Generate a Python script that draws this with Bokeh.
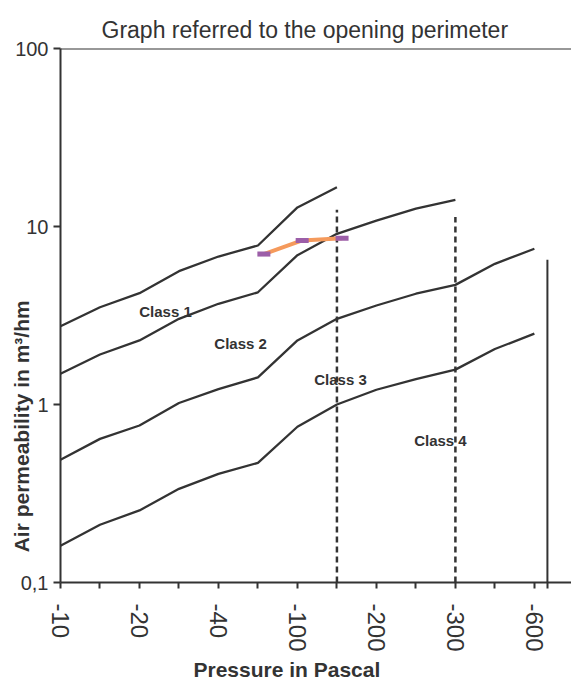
import numpy as np
from bokeh.plotting import figure
from bokeh.models import Range1d, FixedTicker, CustomJSTickFormatter, Span, Label, Title
from bokeh.embed import file_html
from bokeh.resources import INLINE

# ---------------- data ----------------
pressure_labels = ["-10", "-15", "-20", "-30", "-40", "-50", "-100",
                   "-150", "-200", "-250", "-300", "-450", "-600"]
labelled = ["-10", "-20", "-40", "-100", "-200", "-300", "-600"]

class1_upper = [2.75, 3.52, 4.22, 5.61, 6.78, 7.82, 12.8, 16.6]
class1_lower = [1.49, 1.91, 2.29, 3.03, 3.68, 4.27, 6.9, 9.1, 10.8, 12.6, 14.1]
class2_lower = [0.489, 0.641, 0.762, 1.02, 1.22, 1.42, 2.29, 3.03, 3.6, 4.19, 4.7, 6.17, 7.5]
class3_lower = [0.161, 0.211, 0.254, 0.336, 0.408, 0.47, 0.75, 1.0, 1.21, 1.39, 1.57, 2.05, 2.5]

measured_pos = [5.15, 6.12, 7.13]
measured_val = [7.0, 8.35, 8.6]

limit_pos = [7, 10]          # -150 Pa and -300 Pa
limit_top = [12.4, 11.3]
end_pos = 12.33
end_top = 6.5

class_names = ["Class 1", "Class 2", "Class 3", "Class 4"]
class_x = [2.66, 4.56, 7.09, 9.62]
class_y = [3.33, 2.2, 1.38, 0.628]

DARK = "#333333"
FONT = "Liberation Sans"

p = figure(width=571, height=683, x_range=Range1d(0, 12.94), y_range=Range1d(0.1, 100),
           y_axis_type="log", output_backend="svg", toolbar_location=None,
           min_border_left=60, min_border_right=0, min_border_top=48, min_border_bottom=101)
p.outline_line_color = None
p.grid.visible = False
p.background_fill_color = "white"
p.border_fill_color = "white"

p.title.text = "Graph referred to the opening perimeter"
p.title.text_font = FONT
p.title.text_font_size = "23px"
p.title.text_font_style = "normal"
p.title.text_color = DARK
p.title.align = "left"
p.title.offset = 41
p.title.standoff = 12

# axes
xa = p.xaxis[0]
xa.ticker = FixedTicker(ticks=list(range(len(pressure_labels))) + [end_pos])
xa.formatter = CustomJSTickFormatter(args=dict(labels=pressure_labels, shown=labelled), code="""
    const i = Math.round(tick);
    if (Math.abs(tick - i) > 1e-6 || i < 0 || i >= labels.length) return "";
    return shown.includes(labels[i]) ? labels[i] : "";
""")
xa.major_label_orientation = -np.pi / 2
xa.major_label_text_font = FONT
xa.major_label_text_font_size = "24px"
xa.major_label_text_color = DARK
xa.major_label_standoff = 15
xa.major_tick_in = 0
xa.major_tick_out = 6
xa.major_tick_line_width = 2
xa.major_tick_line_color = DARK
xa.minor_tick_line_color = None
xa.axis_line_width = 2
xa.axis_line_color = DARK

ya = p.yaxis[0]
ya.ticker = FixedTicker(ticks=[0.1, 1, 10, 100])
ya.formatter = CustomJSTickFormatter(code="""
    return tick < 1 ? tick.toString().replace('.', ',') : tick.toFixed(0);
""")
ya.major_label_text_font = FONT
ya.major_label_text_font_size = "20px"
ya.major_label_text_color = DARK
ya.major_label_standoff = 5
ya.major_tick_in = 0
ya.major_tick_out = 7
ya.major_tick_line_width = 2
ya.major_tick_line_color = DARK
ya.minor_tick_line_color = None
ya.axis_line_width = 2
ya.axis_line_color = DARK
# trailing fixed-width spaces move the centred label down to where the original sits
ya.axis_label = "Air permeability in m³/hm" + "\u2003" * 10 + "\u00a0\u00a0"
ya.axis_label_text_font = FONT
ya.axis_label_text_font_style = "bold"
ya.axis_label_text_font_size = "21px"
ya.axis_label_text_color = DARK
ya.axis_label_standoff = -21

p.add_layout(Title(text="Pressure in Pascal", align="left", offset=133,
                   text_font=FONT, text_font_style="bold", text_font_size="21px",
                   text_color=DARK, standoff=2), "below")

p.add_layout(Span(location=100, dimension="width", line_color=DARK, line_width=2))

# class boundary lines
for series in [class1_upper, class1_lower, class2_lower, class3_lower]:
    p.line(list(range(len(series))), series, line_color=DARK, line_width=2.3)

# limit lines
for xpos, top in zip(limit_pos, limit_top):
    p.line([xpos, xpos], [0.1, top], line_color=DARK, line_width=2.5, line_dash="6 4")
p.line([end_pos, end_pos], [0.1, end_top], line_color=DARK, line_width=2)

# measured series
p.line(measured_pos, measured_val, line_color="#F59A5C", line_width=4)
p.rect(measured_pos, measured_val, width=13, height=5, width_units="screen",
       height_units="screen", fill_color="#9C5EA8", line_color=None)

for name, cx, cy in zip(class_names, class_x, class_y):
    p.add_layout(Label(x=cx, y=cy, text=name, text_font=FONT, text_font_style="bold",
                       text_font_size="15px", text_color=DARK, text_align="center",
                       text_baseline="middle"))

open("out.html", "w").write(file_html(p, INLINE))
